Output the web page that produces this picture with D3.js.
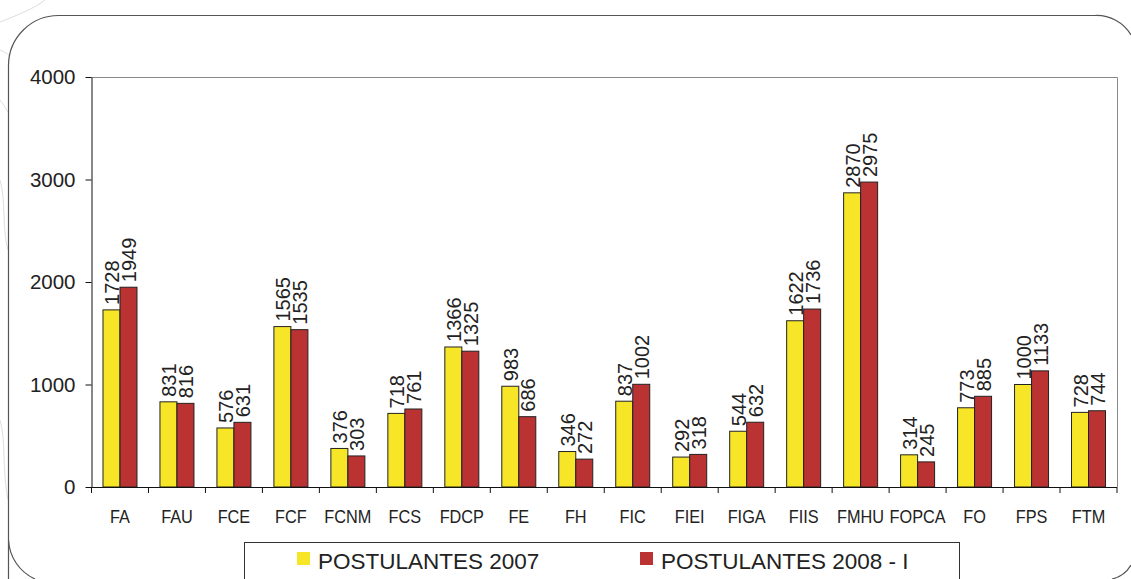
<!DOCTYPE html>
<html>
<head>
<meta charset="utf-8">
<script src="https://cdn.jsdelivr.net/npm/d3@7"></script>
<style>
  body { margin: 0; background: #fff; }
  svg { display: block; font-family: "Liberation Sans", Arial, sans-serif; }
</style>
</head>
<body>
<svg id="chart" width="1131" height="579"></svg>
<script>
const categories = ['FA','FAU','FCE','FCF','FCNM','FCS','FDCP','FE','FH','FIC','FIEI','FIGA','FIIS','FMHU','FOPCA','FO','FPS','FTM'];
const post2007 = [1728, 831, 576, 1565, 376, 718, 1366, 983, 346, 837, 292, 544, 1622, 2870, 314, 773, 1000, 728];
const post2008 = [1949, 816, 631, 1535, 303, 761, 1325, 686, 272, 1002, 318, 632, 1736, 2975, 245, 885, 1133, 744];
const seriesNames = ['POSTULANTES 2007', 'POSTULANTES 2008 - I'];
const yTicks = [0, 1000, 2000, 3000, 4000];

const colors = ['#f7e627', '#bb3232'];
const svg = d3.select('#chart');

// faint background scribbles on the left
const deco = svg.append('g').attr('fill', 'none').attr('stroke', '#ddd').attr('stroke-width', 1);
deco.append('path').attr('d', 'M0,22 C20,14 35,8 45,0');
deco.append('path').attr('d', 'M0,50 C5,52 8,54 10,56');
deco.append('path').attr('d', 'M0,100 C4,104 6,110 8,112');
deco.append('path').attr('d', 'M0,180 C6,200 2,230 8,250');
deco.append('path').attr('d', 'M0,420 C6,440 2,470 8,500');

// outer rounded frame
svg.append('path')
  .attr('d', 'M8.5,590 L8.5,65 A50,50 0 0 1 58.5,15.5 L1095,15.5 A40,40 0 0 1 1131,35')
  .attr('fill', 'none').attr('stroke', '#555').attr('stroke-width', 1.2);
svg.append('path')
  .attr('d', 'M8.5,540 A45,45 0 0 0 35,579')
  .attr('fill', 'none').attr('stroke', '#555').attr('stroke-width', 1.2);
svg.append('path')
  .attr('d', 'M1112,579 A30,30 0 0 0 1131,565')
  .attr('fill', 'none').attr('stroke', '#555').attr('stroke-width', 1.2);

const pLeft = 91.5, pRight = 1117, pTop = 77, pBottom = 487;

const x = d3.scaleBand().domain(categories).range([pLeft, pRight]);
const y = d3.scaleLinear().domain([0, 4000]).range([pBottom, pTop]);
const barW = 17;

// plot frame (top & right)
svg.append('path')
  .attr('d', `M${pLeft},${pTop + 0.5} L${pRight + 0.5},${pTop + 0.5} L${pRight + 0.5},${pBottom}`)
  .attr('fill', 'none').attr('stroke', '#888').attr('stroke-width', 1);

const rows = categories.map((c, i) => ({c, v: [post2007[i], post2008[i]]}));

const groups = svg.append('g').selectAll('g').data(rows).join('g')
  .attr('transform', d => `translate(${x(d.c) + x.bandwidth() / 2 - barW},0)`);

groups.selectAll('rect').data(d => d.v).join('rect')
  .attr('x', (d, i) => i * barW)
  .attr('y', d => y(d))
  .attr('width', barW)
  .attr('height', d => pBottom - y(d))
  .attr('fill', (d, i) => colors[i])
  .attr('stroke', '#222').attr('stroke-width', 1);

groups.selectAll('text').data(d => d.v).join('text')
  .attr('transform', (d, i) => `translate(${i * barW + barW - 0.5},${y(d) - 5}) rotate(-90)`)
  .attr('font-size', 20).attr('fill', '#222')
  .text(d => d);

// y axis
const yAxis = svg.append('g')
  .attr('transform', `translate(${pLeft},0)`)
  .call(d3.axisLeft(y).tickValues(yTicks).tickSize(6).tickSizeOuter(0).tickFormat(d3.format('d')));
yAxis.select('.domain').attr('stroke', '#111');
yAxis.selectAll('.tick line').attr('stroke', '#111');
yAxis.selectAll('text').attr('font-size', 20.5).attr('fill', '#222').attr('x', -16)
  .attr('font-family', '"Liberation Sans", Arial, sans-serif');

// x axis: ticks at band boundaries
const xg = svg.append('g');
xg.append('line').attr('x1', pLeft).attr('x2', pRight).attr('y1', pBottom + 0.5).attr('y2', pBottom + 0.5).attr('stroke', '#111');
xg.selectAll('line.tk').data(categories.concat(['end'])).join('line').attr('class', 'tk')
  .attr('x1', (d, i) => i < categories.length ? x(d) : pRight)
  .attr('x2', (d, i) => i < categories.length ? x(d) : pRight)
  .attr('y1', pBottom).attr('y2', pBottom + 6).attr('stroke', '#111');
xg.selectAll('text').data(categories).join('text')
  .attr('x', d => x(d) + x.bandwidth() / 2)
  .attr('y', 523)
  .attr('text-anchor', 'middle')
  .attr('font-size', 18.5).attr('fill', '#222')
  .text(d => d)
  .each(function() {
    // labels in the reference are slightly condensed
    const w = this.getComputedTextLength();
    d3.select(this).attr('textLength', w * 0.88).attr('lengthAdjust', 'spacingAndGlyphs');
  });

// legend
const lg = svg.append('g');
lg.append('rect').attr('x', 244.5).attr('y', 542.5).attr('width', 715).attr('height', 60)
  .attr('fill', '#fff').attr('stroke', '#333').attr('stroke-width', 1);
const legX = [297, 640];
seriesNames.forEach((n, i) => {
  lg.append('rect').attr('x', legX[i]).attr('y', 552).attr('width', 13).attr('height', 13).attr('fill', colors[i]);
  lg.append('text').attr('x', legX[i] + 21).attr('y', 569).attr('font-size', 22.5).attr('fill', '#222').text(n);
});
</script>
</body>
</html>
